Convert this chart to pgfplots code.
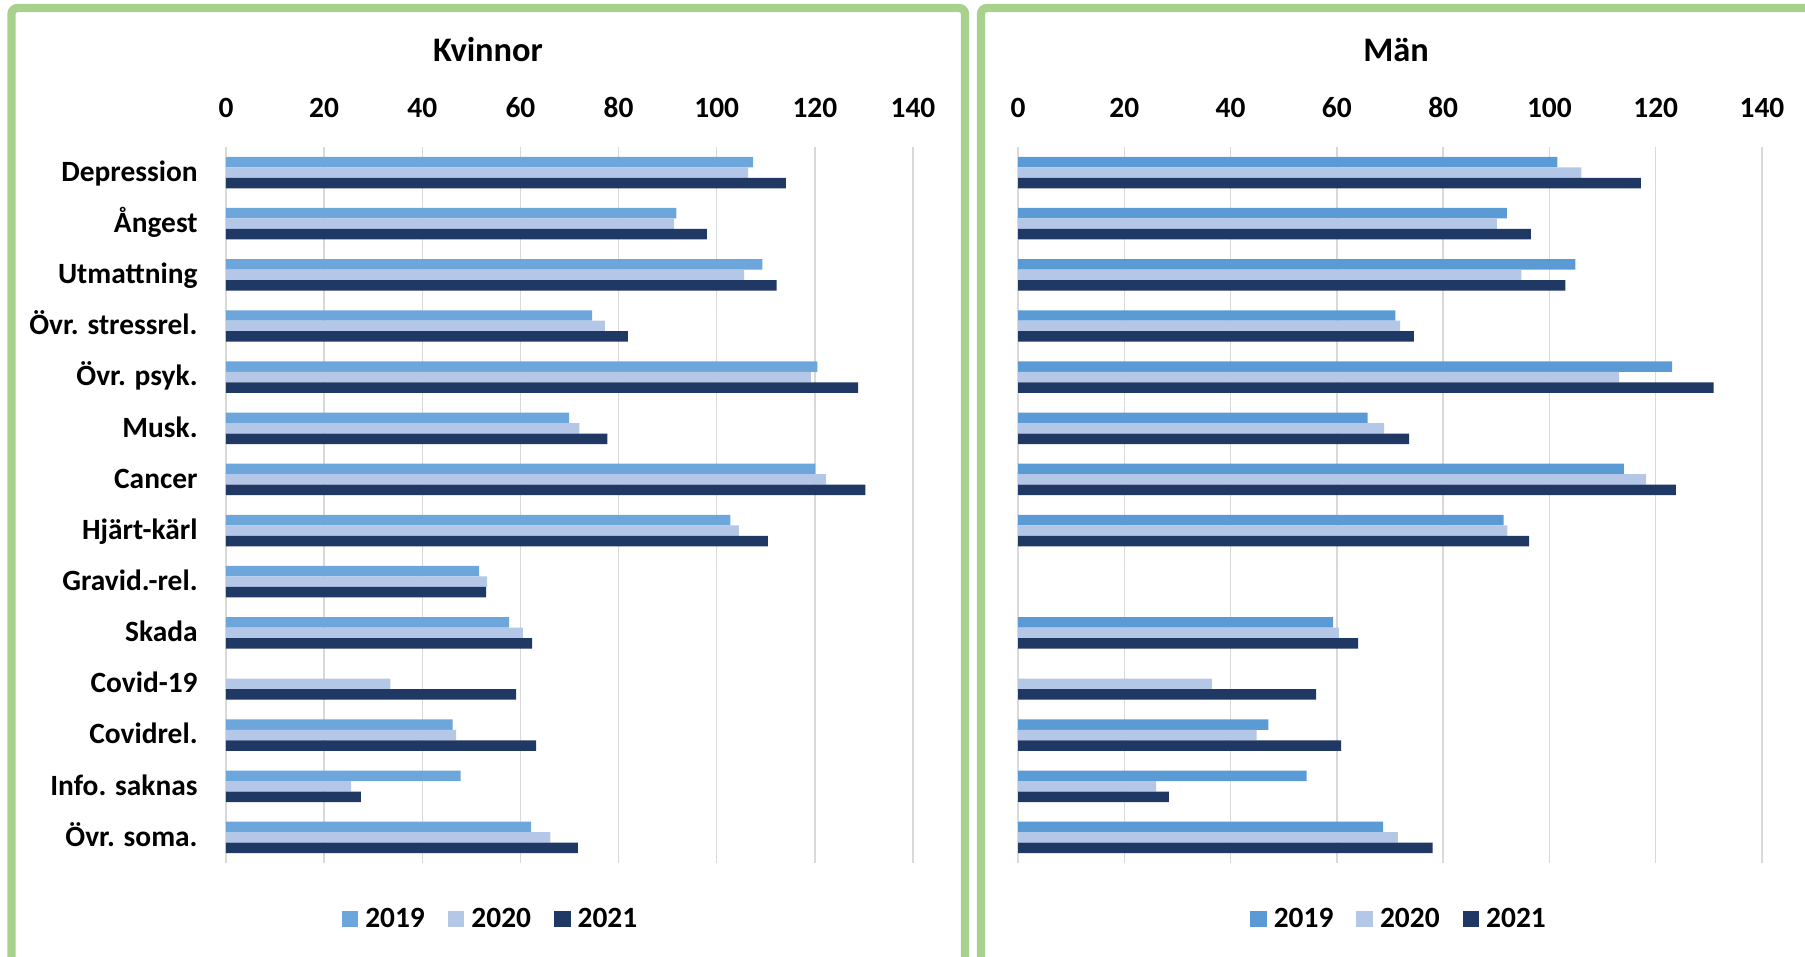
\documentclass[border=0pt]{standalone}
\usepackage{fontspec}
\setmainfont{Carlito}
\usepackage{pgfplots}
\usepackage{pgfplotstable}
\pgfplotsset{compat=1.18}

\definecolor{panelgreen}{HTML}{A9D18E}
\definecolor{gridgray}{HTML}{D9D9D9}
\definecolor{bluelight}{HTML}{6CA6DA}
\definecolor{bluemid}{HTML}{5B9BD5}
\definecolor{bluepale}{HTML}{B4C7E7}
\definecolor{bluedark}{HTML}{203864}

\newcommand{\labfont}{\fontsize{14.7}{16.5}\selectfont\bfseries}
\newcommand{\titlefont}{\fontsize{17.2}{20}\selectfont\bfseries}

% idx 13 = Depression (top) ... idx 0 = Övr. soma. (bottom)
\pgfplotstableread{
idx y19 y20 y21
13 107.4 106.4 114.1
12 91.8 91.3 98.0
11 109.3 105.6 112.2
10 74.6 77.2 81.9
9 120.5 119.2 128.8
8 69.9 72.0 77.7
7 120.1 122.3 130.3
6 102.8 104.5 110.4
5 51.6 53.2 53.0
4 57.7 60.5 62.4
3 nan 33.5 59.1
2 46.2 46.9 63.2
1 47.8 25.5 27.5
0 62.2 66.1 71.7
}\kvinnor

\pgfplotstableread{
idx y19 y20 y21
13 101.5 106.0 117.2
12 92.0 90.1 96.5
11 104.9 94.7 103.0
10 71.0 71.9 74.5
9 123.1 113.1 130.9
8 65.8 68.9 73.6
7 114.0 118.2 123.8
6 91.4 92.1 96.2
5 nan nan nan
4 59.3 60.4 64.0
3 nan 36.5 56.1
2 47.1 44.9 60.8
1 54.3 26.0 28.4
0 68.7 71.5 78.0
}\man

\pgfplotsset{
  panel/.style={
    scale only axis,
    height=358pt,
    xbar, bar width=0.205,
    xmin=0, xmax=140, xtick={0,20,...,140},
    ymin=-0.5, ymax=13.5, ytick={0,...,13},
    axis line style={draw=none},
    major tick length=0pt,
    xticklabel pos=upper,
    xmajorgrids, grid style={gridgray, line width=0.75pt},
    /pgf/number format/assume math mode=true,
    ticklabel style={font=\labfont},
    xticklabel style={anchor=base, yshift=14.7pt, inner sep=0pt},
    yticklabel style={anchor=base east, inner sep=0pt, xshift=-14pt, yshift=-4.4pt},
    legend columns=3,
    legend style={draw=none, fill=none, font=\labfont, anchor=center,
      /tikz/every even column/.append style={column sep=8pt},
      nodes={inner xsep=3.5pt, inner ysep=0pt}},
    legend image code/.code={\path[#1,draw=none] (0pt,-4.15pt) rectangle (8.3pt,4.15pt);},
    every axis plot/.append style={draw=none},
  }
}

\begin{document}
\begin{tikzpicture}
\path[use as bounding box] (0pt,0pt) rectangle (902.5pt,478.5pt);
\clip (0pt,0pt) rectangle (902.5pt,478.5pt);

% panel frames
\draw[panelgreen, line width=4.15pt, rounded corners=3pt] (5.75pt,-20pt) rectangle (482.5pt,474.5pt);
\draw[panelgreen, line width=4.15pt, rounded corners=3pt] (490.5pt,-20pt) rectangle (930pt,474.5pt);

% Kvinnor
\begin{axis}[panel, width=343.5pt, at={(113pt,47pt)}, anchor=south west,
  yticklabels={Övr. soma., Info. saknas, Covidrel., Covid-19, Skada, Gravid.-rel., Hjärt-kärl, Cancer, Musk., Övr. psyk., Övr. stressrel., Utmattning, Ångest, Depression},
  legend style={at={(0.3886,-0.0782)}}]
\addplot[fill=bluelight, bar shift=0.205] table[x=y19, y=idx] {\kvinnor};
\addplot[fill=bluepale, bar shift=0] table[x=y20, y=idx] {\kvinnor};
\addplot[fill=bluedark, bar shift=-0.205] table[x=y21, y=idx] {\kvinnor};
\legend{2019, 2020, 2021}
\end{axis}

% Män
\begin{axis}[panel, width=372pt, at={(509pt,47pt)}, anchor=south west,
  yticklabels={},
  legend style={at={(0.5155,-0.0782)}}]
\addplot[fill=bluemid, bar shift=0.205] table[x=y19, y=idx] {\man};
\addplot[fill=bluepale, bar shift=0] table[x=y20, y=idx] {\man};
\addplot[fill=bluedark, bar shift=-0.205] table[x=y21, y=idx] {\man};
\legend{2019, 2020, 2021}
\end{axis}

\node[font=\titlefont, anchor=base] at (244pt,447.6pt) {Kvinnor};
\node[font=\titlefont, anchor=base] at (698pt,447.6pt) {Män};
\end{tikzpicture}
\end{document}
